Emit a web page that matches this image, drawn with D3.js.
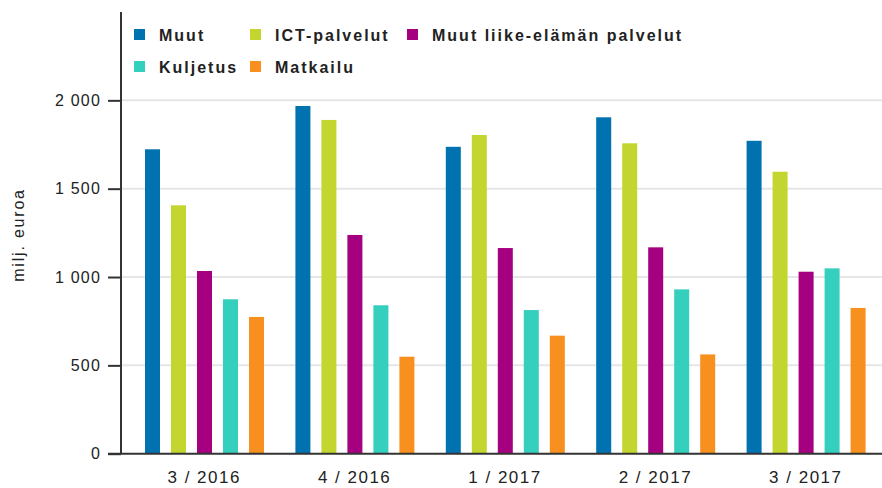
<!DOCTYPE html>
<html>
<head>
<meta charset="utf-8">
<script src="https://cdn.jsdelivr.net/npm/d3@7"></script>
<style>
  body { margin: 0; background: #fff; }
  text { font-family: "Liberation Sans", Arial, sans-serif; fill: #222; }
  .yaxis .tick text { font-size: 16px; letter-spacing: 1.2px; }
  .xaxis .tick text { font-size: 17px; letter-spacing: 1.5px; }
  .legendText { font-size: 16px; font-weight: bold; letter-spacing: 2px; }
</style>
</head>
<body>
<div id="chart"></div>
<script>
// Data
var quarters = ["3 / 2016", "4 / 2016", "1 / 2017", "2 / 2017", "3 / 2017"];
var seriesNames = ["Muut", "ICT-palvelut", "Muut liike-elämän palvelut", "Kuljetus", "Matkailu"];
var seriesColors = ["#0072b0", "#c3d630", "#a5007f", "#35cfbd", "#f7901e"];
var muut = [1723, 1968, 1737, 1904, 1771];
var ict = [1406, 1889, 1804, 1757, 1596];
var liike = [1034, 1238, 1164, 1168, 1030];
var kuljetus = [874, 840, 813, 930, 1049];
var matkailu = [774, 549, 668, 562, 825];
var yTicks = [0, 500, 1000, 1500, 2000];

var seriesValues = [muut, ict, liike, kuljetus, matkailu];

var svgWidth = 882;
var svgHeight = 488;

var svg = d3.select("#chart")
  .append("svg")
  .attr("width", svgWidth)
  .attr("height", svgHeight);

// Scales
var x0 = d3.scaleBand()
  .domain(quarters)
  .range([129, 881]);

var x1 = d3.scaleBand()
  .domain(seriesNames)
  .range([16, 135])
  .paddingInner(0.423);

var y = d3.scaleLinear()
  .domain([0, 2500])
  .range([453.7, 12]);

// Gridlines
svg.append("g")
  .selectAll("line")
  .data(yTicks.filter(d => d > 0))
  .enter()
  .append("line")
  .attr("x1", 121)
  .attr("x2", 882)
  .attr("y1", d => y(d))
  .attr("y2", d => y(d))
  .attr("stroke", "#e6e6e6")
  .attr("stroke-width", 2);

// Bars
var groups = svg.append("g")
  .selectAll("g")
  .data(quarters)
  .enter()
  .append("g")
  .attr("transform", d => `translate(${x0(d)}, 0)`);

groups.selectAll("rect")
  .data((q, qi) => seriesNames.map((s, si) => ({ s: s, si: si, v: seriesValues[si][qi] })))
  .enter()
  .append("rect")
  .attr("x", d => x1(d.s))
  .attr("width", x1.bandwidth())
  .attr("y", d => y(d.v))
  .attr("height", d => y(0) - y(d.v))
  .attr("fill", d => seriesColors[d.si]);

// Y axis
var yAxis = svg.append("g")
  .attr("class", "yaxis")
  .attr("transform", "translate(121, 0)")
  .call(d3.axisLeft(y)
    .tickValues(yTicks)
    .tickSize(13)
    .tickPadding(7)
    .tickFormat(d => d3.format(",")(d).replace(",", " ")));
yAxis.select(".domain")
  .attr("d", `M0,${y(0)}V12`)
  .attr("stroke", "#333")
  .attr("stroke-width", 2);
yAxis.selectAll(".tick line").attr("stroke", "#333").attr("stroke-width", 2);
yAxis.selectAll(".tick text").attr("fill", "#222");

// X axis
var xAxis = svg.append("g")
  .attr("class", "xaxis")
  .attr("transform", `translate(0, ${y(0)})`)
  .call(d3.axisBottom(x0).tickSize(0).tickPadding(17));
xAxis.select(".domain")
  .attr("d", "M108,0H882")
  .attr("stroke", "#333")
  .attr("stroke-width", 2);
xAxis.selectAll(".tick text").attr("fill", "#222");

// Y title
svg.append("text")
  .attr("transform", "translate(24, 235) rotate(-90)")
  .attr("text-anchor", "middle")
  .attr("font-size", 16)
  .attr("letter-spacing", 1.8)
  .text("milj. euroa");

// Legend
var legendPos = [[134, 29], [250, 29], [407, 29], [134, 61], [250, 61]];
var legend = svg.append("g")
  .selectAll("g")
  .data(seriesNames)
  .enter()
  .append("g")
  .attr("transform", (d, i) => `translate(${legendPos[i][0]}, ${legendPos[i][1]})`);

legend.append("rect")
  .attr("width", 11)
  .attr("height", 11)
  .attr("fill", (d, i) => seriesColors[i]);

legend.append("text")
  .classed("legendText", true)
  .attr("x", 25)
  .attr("y", 11.5)
  .text(d => d);
</script>
</body>
</html>
